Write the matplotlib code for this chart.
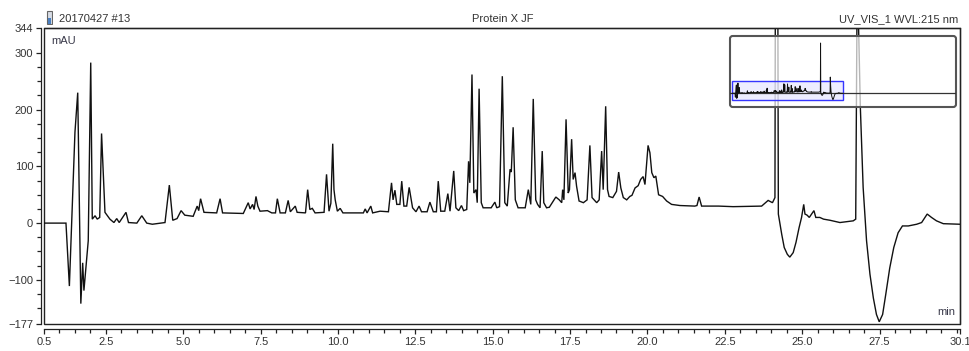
import matplotlib.pyplot as plt
from matplotlib.patches import Rectangle, FancyBboxPatch
from matplotlib.ticker import FixedLocator, MultipleLocator

plt.rcParams['font.family'] = ['Liberation Sans', 'DejaVu Sans']

# retention time (min) and signal (mAU)
rt = [0.50, 1.21, 1.32, 1.50, 1.59, 1.69, 1.75, 1.79, 1.93, 2.01, 2.06, 2.15, 2.22, 2.30,
      2.36, 2.47, 2.63, 2.76, 2.85, 2.93, 3.15, 3.23, 3.50, 3.66, 3.82, 4.00, 4.41, 4.55,
      4.66, 4.80, 4.93, 5.05, 5.32, 5.45, 5.50, 5.56, 5.67, 6.08, 6.19, 6.27, 6.94, 7.10,
      7.16, 7.24, 7.29, 7.35, 7.41, 7.48, 7.72, 7.86, 7.98, 8.04, 8.13, 8.30, 8.39, 8.46,
      8.62, 8.68, 8.95, 9.02, 9.09, 9.17, 9.26, 9.55, 9.63, 9.71, 9.77, 9.83, 9.87, 9.91,
      9.98, 10.07, 10.16, 10.82, 10.88, 10.94, 11.06, 11.12, 11.36, 11.63, 11.73, 11.78,
      11.84, 11.90, 12.00, 12.06, 12.13, 12.22, 12.30, 12.41, 12.52, 12.62, 12.70, 12.88,
      12.97, 13.08, 13.18, 13.24, 13.32, 13.45, 13.55, 13.62, 13.74, 13.81, 13.90, 13.99,
      14.06, 14.16, 14.22, 14.26, 14.33, 14.39, 14.46, 14.50, 14.56, 14.63, 14.69, 14.95,
      15.07, 15.13, 15.22, 15.31, 15.39, 15.47, 15.56, 15.60, 15.66, 15.73, 15.82, 16.05,
      16.15, 16.23, 16.31, 16.39, 16.45, 16.53, 16.60, 16.65, 16.74, 16.83, 17.04, 17.15,
      17.23, 17.26, 17.30, 17.37, 17.44, 17.48, 17.55, 17.60, 17.66, 17.71, 17.79, 17.93,
      18.05, 18.14, 18.21, 18.31, 18.36, 18.44, 18.52, 18.57, 18.65, 18.71, 18.76, 18.88,
      19.00, 19.07, 19.14, 19.22, 19.33, 19.43, 19.50, 19.60, 19.70, 19.78, 19.86, 19.92,
      20.02, 20.08, 20.14, 20.21, 20.27, 20.36, 20.49, 20.62, 20.78, 21.05, 21.53, 21.60,
      21.67, 21.75, 22.30, 22.77, 23.69, 23.90, 24.04, 24.12, 24.17, 24.23, 24.34, 24.42,
      24.52, 24.60, 24.71, 24.80, 24.90, 24.98, 25.05, 25.09, 25.16, 25.23, 25.38, 25.44,
      25.57, 25.69, 25.90, 26.22, 26.65, 26.73, 26.78, 26.88, 26.97, 27.08, 27.19, 27.30,
      27.40, 27.49, 27.60, 27.70, 27.83, 27.96, 28.10, 28.24, 28.43, 28.70, 28.86, 29.04,
      29.18, 29.34, 29.56, 30.10]
mau = [0, 0, -111, 160, 230, -142, -70, -119, -31, 283, 7, 13, 7, 10,
       158, 19, 7, 1, 8, 1, 19, 1, 0, 13, 0, -2, 1, 67,
       5, 8, 22, 14, 12, 30, 22, 43, 19, 18, 43, 18, 17, 36,
       25, 33, 24, 47, 30, 21, 22, 18, 18, 43, 18, 18, 40, 20,
       30, 19, 18, 59, 24, 26, 18, 19, 86, 21, 35, 140, 59, 41,
       21, 26, 18, 18, 25, 18, 30, 18, 21, 20, 71, 41,
       58, 33, 33, 74, 30, 30, 63, 27, 20, 30, 20, 20,
       37, 20, 20, 74, 21, 21, 52, 21, 92, 27, 22, 31,
       22, 24, 109, 71, 262, 53, 59, 36, 237, 36, 27, 27,
       37, 27, 29, 259, 36, 30, 95, 90, 169, 41, 27, 27,
       59, 33, 219, 41, 33, 27, 127, 36, 27, 28, 46, 41,
       36, 59, 41, 183, 53, 59, 148, 77, 89, 65, 39, 36,
       41, 137, 45, 39, 36, 41, 127, 59, 206, 59, 47, 45,
       56, 90, 62, 45, 41, 47, 49, 62, 66, 77, 82, 68,
       137, 124, 89, 80, 83, 50, 47, 39, 33, 31, 30, 31,
       46, 30, 30, 29, 30, 40, 36, 45, 1400, 16, -20, -43,
       -55, -60, -52, -34, -8, 10, 33, 16, 14, 10, 22, 10,
       10, 7, 5, 1, 4, 7, 450, 204, 63, -31, -90, -132,
       -161, -174, -161, -126, -79, -43, -17, -5, -5, -2, 1, 16,
       10, 4, -1, -2]

x_ticks = [0.5, 2.5, 5.0, 7.5, 10.0, 12.5, 15.0, 17.5, 20.0, 22.5, 25.0, 27.5, 30.1]
y_ticks = [-177, -100, 0, 100, 200, 300, 344]
y_minor = [-150, -125, -75, -50, -25, 25, 50, 75, 125, 150, 175, 225, 250, 275]

W, H = 970, 351
fig = plt.figure(figsize=(W / 100, H / 100), dpi=100)


def box(x0, y0, x1, y1):
    # pixel rectangle (top-left origin) -> figure fraction
    return [x0 / W, 1 - y1 / H, (x1 - x0) / W, (y1 - y0) / H]


ax = fig.add_axes(box(44, 28, 960, 323.5))
ax.plot(rt, mau, color='#111111', lw=1.0, solid_joinstyle='miter')
ax.set_xlim(0.5, 30.1)
ax.set_ylim(-177, 344)

ax.xaxis.set_major_locator(FixedLocator(x_ticks))
ax.set_xticklabels([f'{t:.1f}' for t in x_ticks])
ax.xaxis.set_minor_locator(MultipleLocator(0.5))
ax.yaxis.set_major_locator(FixedLocator(y_ticks))
ax.yaxis.set_minor_locator(FixedLocator(y_minor))

ax.spines['left'].set_position(('outward', 2.4))
ax.spines['bottom'].set_position(('outward', 4))
for s in ax.spines.values():
    s.set_color('#222222')
    s.set_linewidth(0.9)
ax.add_patch(Rectangle((0, 0), 1, 1, transform=ax.transAxes, fill=False,
                       ec='#222222', lw=1.0, clip_on=False))

ax.tick_params(which='major', direction='out', length=3.4, width=0.9, color='#222222',
               labelsize=8, labelcolor='#333333', pad=2)
ax.tick_params(which='minor', direction='out', length=2.6, width=0.9, color='#222222')

ax.text(0.008, 0.955, 'mAU', transform=ax.transAxes, fontsize=8, color='#3a3a4a',
        ha='left', va='center')
ax.text(0.995, 0.04, 'min', transform=ax.transAxes, fontsize=8, color='#3a3a4a',
        ha='right', va='center')

fig.text(59 / W, 1 - 19.5 / H, '20170427 #13', fontsize=8, color='#333333', va='center')
fig.text(503 / W, 1 - 19.5 / H, 'Protein X JF', fontsize=8, color='#333333',
         ha='center', va='center')
fig.text(958 / W, 1 - 19.5 / H, 'UV_VIS_1 WVL:215 nm', fontsize=8, color='#333333',
         ha='right', va='center')
# small file icon next to the sample name
icon = fig.add_axes(box(46, 10, 53, 25))
icon.set_axis_off()
icon.add_patch(Rectangle((0.1, 0.05), 0.8, 0.9, fc='#d8dde6', ec='#666666', lw=0.8))
icon.add_patch(Rectangle((0.25, 0.1), 0.5, 0.35, fc='#4a7fc0', ec='none'))

# overview inset
ins = fig.add_axes(box(730, 36, 956, 107))
ins.set_facecolor((1, 1, 1, 0.7))
for s in ins.spines.values():
    s.set_visible(False)
ins.set_xticks([])
ins.set_yticks([])
ins.set_xlim(-0.12, 60.5)
ins.set_ylim(-384, 1596)
ins.axhline(0, color='#333333', lw=0.9)
ins.add_patch(Rectangle((0.5, -177), 29.6, 521, fc=(0.85, 0.85, 1, 0.45),
                        ec='#3535ff', lw=1.0))
ins.plot(rt, mau, color='#111111', lw=0.7)
ins.add_patch(FancyBboxPatch((0, 0), 1, 1, boxstyle='round,pad=0,rounding_size=0.012',
                             mutation_aspect=226 / 71, transform=ins.transAxes,
                             fill=False, ec='#555555', lw=1.5, clip_on=False))

fig.savefig('out.png', dpi=100)
